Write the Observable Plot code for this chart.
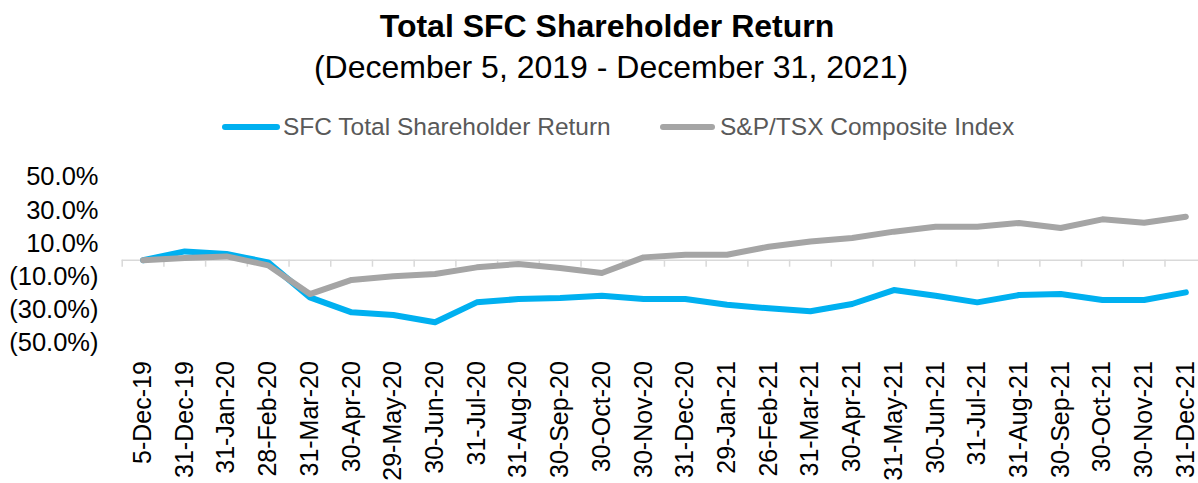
<!DOCTYPE html>
<html>
<head>
<meta charset="utf-8">
<script src="https://cdn.jsdelivr.net/npm/d3@7"></script>
<script src="https://cdn.jsdelivr.net/npm/@observablehq/plot@0.6"></script>
<style>
  html, body { margin: 0; padding: 0; background: #fff; }
  body { width: 1198px; height: 483px; overflow: hidden; font-family: "Liberation Sans", Arial, sans-serif; }
  #header { position: relative; width: 1198px; height: 150px; }
  #title { position: absolute; left: 8px; width: 1198px; top: 6px; text-align: center; font-weight: bold; font-size: 32px; line-height: 40px; color: #000; }
  #subtitle { position: absolute; left: 12px; width: 1198px; top: 47px; text-align: center; font-size: 32px; line-height: 40px; color: #000; }
  #legend { position: absolute; top: 112px; left: 0; width: 1198px; height: 30px; font-size: 24.5px; color: #595959; }
  .item { position: absolute; top: 0; height: 30px; line-height: 30px; white-space: nowrap; }
  .sw { position: absolute; top: 12px; height: 6px; border-radius: 3px; }
</style>
</head>
<body>
<div id="header">
  <div id="title"></div>
  <div id="subtitle"></div>
  <div id="legend"></div>
</div>
<div id="chart"></div>
<script>
const title = "Total SFC Shareholder Return";
const subtitle = "(December 5, 2019 - December 31, 2021)";
const seriesNames = ["SFC Total Shareholder Return", "S&P/TSX Composite Index"];
const seriesColors = ["#00B0F0", "#A5A5A5"];

const dateLabels = [
  "5-Dec-19", "31-Dec-19", "31-Jan-20", "28-Feb-20", "31-Mar-20", "30-Apr-20",
  "29-May-20", "30-Jun-20", "31-Jul-20", "31-Aug-20", "30-Sep-20", "30-Oct-20",
  "30-Nov-20", "31-Dec-20", "29-Jan-21", "26-Feb-21", "31-Mar-21", "30-Apr-21",
  "31-May-21", "30-Jun-21", "31-Jul-21", "31-Aug-21", "30-Sep-21", "30-Oct-21",
  "30-Nov-21", "31-Dec-21"
];
const sfcReturn = [0, 5.3, 3.7, -1.3, -22.4, -31.4, -33, -37.4, -25.4, -23.4, -22.8, -21.4, -23.4,
  -23.4, -26.8, -29, -30.8, -26.4, -18, -21.4, -25.4, -21, -20.4, -24, -24, -19.4];
const tsxReturn = [0, 1.3, 2.3, -3.1, -20.4, -11.9, -9.7, -8.3, -4.3, -2.3, -4.7, -7.7, 1.7,
  3.3, 3.3, 8.1, 11.3, 13.4, 17.2, 20.2, 20.2, 22.4, 19.4, 24.6, 22.6, 26.2];
const yTicks = [-50, -30, -10, 10, 30, 50];

document.getElementById("title").textContent = title;
document.getElementById("subtitle").textContent = subtitle;
const legend = document.getElementById("legend");
const legendPos = [[222, 58, 283], [660, 55, 720]];
seriesNames.forEach((name, k) => {
  const sw = document.createElement("div");
  sw.className = "sw";
  sw.style.left = legendPos[k][0] + "px";
  sw.style.width = legendPos[k][1] + "px";
  sw.style.background = seriesColors[k];
  legend.appendChild(sw);
  const t = document.createElement("div");
  t.className = "item";
  t.style.left = legendPos[k][2] + "px";
  t.textContent = name;
  legend.appendChild(t);
});

const idx = dateLabels.map((_, i) => i);
const sfcData = sfcReturn.map((v, i) => ({i, v}));
const tsxData = tsxReturn.map((v, i) => ({i, v}));
const tickPos = d3.range(dateLabels.length + 1).map(i => i - 0.5);
const fmt = v => v < 0 ? `(${Math.abs(v).toFixed(1)}%)` : `${v.toFixed(1)}%`;

const chart = Plot.plot({
  width: 1198,
  height: 333,
  marginTop: 26.7,
  marginBottom: 140.3,
  marginLeft: 121.7,
  marginRight: 0,
  style: {fontFamily: "'Liberation Sans', Arial, sans-serif", background: "#fff", color: "#000"},
  x: {type: "linear", domain: [-0.5, dateLabels.length - 0.5], range: [121.7, 1206.2], label: null},
  y: {domain: [-50, 50], label: null},
  marks: [
    Plot.ruleY([0], {stroke: "#D9D9D9", strokeWidth: 1.5}),
    Plot.ruleX(tickPos, {x: d => d, y1: 0, y2: 0, insetBottom: -7, stroke: "#D9D9D9", strokeWidth: 1.5}),
    Plot.axisY({ticks: yTicks, tickFormat: fmt, tickSize: 0, tickPadding: 23.7, fontSize: 25.5, fill: "#000", label: null}),
    Plot.axisX({ticks: idx, tickFormat: i => dateLabels[i], tickRotate: -90, tickSize: 0, tickPadding: 18, fontSize: 25, fill: "#000", label: null}),
    Plot.lineY(sfcData, {x: "i", y: "v", stroke: seriesColors[0], strokeWidth: 6, strokeLinejoin: "round", strokeLinecap: "round"}),
    Plot.lineY(tsxData, {x: "i", y: "v", stroke: seriesColors[1], strokeWidth: 6, strokeLinejoin: "round", strokeLinecap: "round"})
  ]
});
document.getElementById("chart").appendChild(chart);
</script>
</body>
</html>
